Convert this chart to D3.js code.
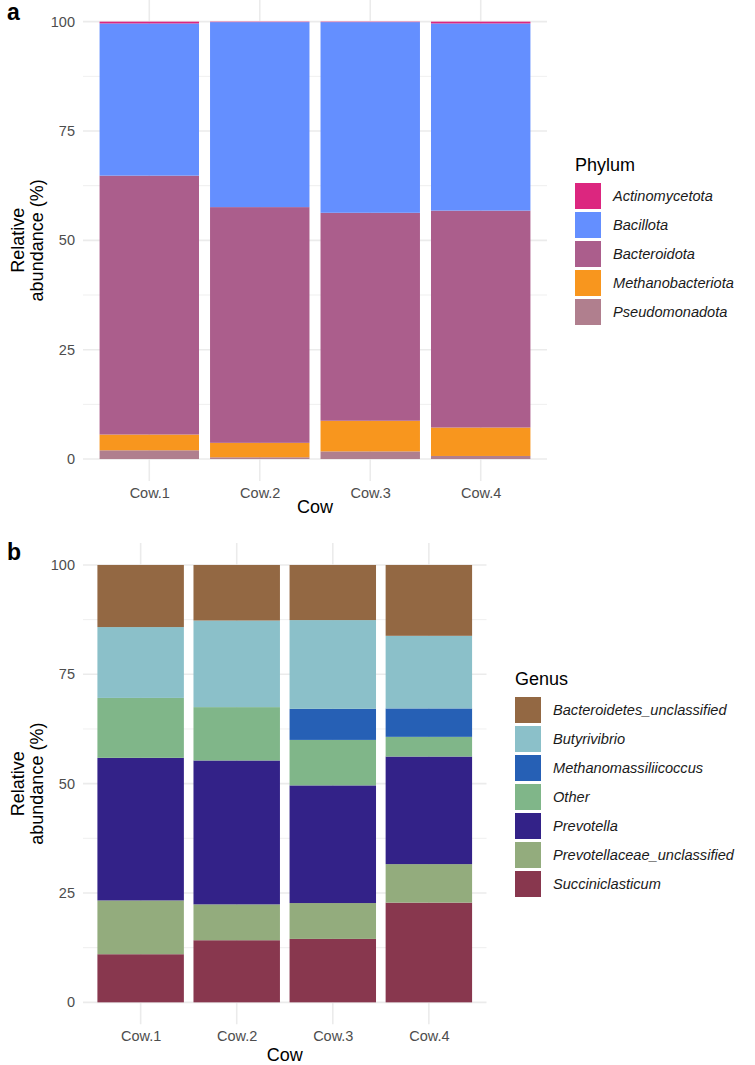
<!DOCTYPE html>
<html>
  <head>
    <meta charset="utf-8">
    <title>Relative abundance</title>
    <script src="https://cdnjs.cloudflare.com/ajax/libs/d3/7.8.5/d3.min.js"></script>
    <style>
      body { margin: 0; background: #fff; }
      text { font-family: "Liberation Sans", Arial, sans-serif; }
    </style>
  </head>
  <body>
    <div id="chart"></div>
    <script>
      // Data (percent per segment)
      var cows = ["Cow.1", "Cow.2", "Cow.3", "Cow.4"];
      var yTicks = [0, 25, 50, 75, 100];

      // Panel a: phylum
      var phyla = ["Actinomycetota", "Bacillota", "Bacteroidota", "Methanobacteriota", "Pseudomonadota"];
      var actinomycetota = [0.4, 0.1, 0.1, 0.4];
      var bacillota = [34.8, 42.3, 43.6, 42.8];
      var bacteroidota = [59.2, 53.9, 47.55, 49.6];
      var methanobacteriota = [3.6, 3.3, 7.0, 6.5];
      var pseudomonadota = [2.0, 0.4, 1.75, 0.7];
      var phylumColors = ["#dc267f", "#648fff", "#ab5e8c", "#f8961e", "#b07f8e"];

      // Panel b: genus
      var genera = ["Bacteroidetes_unclassified", "Butyrivibrio", "Methanomassiliicoccus", "Other",
                    "Prevotella", "Prevotellaceae_unclassified", "Succiniclasticum"];
      var bacteroidetesUnc = [14.2, 12.7, 12.6, 16.2];
      var butyrivibrio = [16.2, 19.8, 20.3, 16.6];
      var methanomassiliicoccus = [0, 0, 7.1, 6.5];
      var other = [13.7, 12.2, 10.4, 4.5];
      var prevotella = [32.6, 32.9, 26.9, 24.6];
      var prevotellaceaeUnc = [12.3, 8.2, 8.2, 8.8];
      var succiniclasticum = [11.0, 14.2, 14.5, 22.8];
      var genusColors = ["#936843", "#8bc0c9", "#2660b5", "#80b689", "#332288", "#93ac7d", "#88374e"];

      var svg = d3.select("#chart").append("svg")
        .attr("width", 755)
        .attr("height", 1065);

      function drawPanel(opt) {
        var g = svg.append("g");
        var x = d3.scalePoint().domain(cows).range([opt.left, opt.right]).padding(0.6);
        var y = d3.scaleLinear().domain([-5, 105]).range([opt.bottom, opt.top]);
        var barW = x.step() * 0.9;

        // grid
        var minor = [12.5, 37.5, 62.5, 87.5];
        g.selectAll(".minor").data(minor).enter().append("line")
          .attr("x1", opt.left).attr("x2", opt.right)
          .attr("y1", function(d) { return y(d); }).attr("y2", function(d) { return y(d); })
          .attr("stroke", "#ebebeb").attr("stroke-width", 0.8);
        g.selectAll(".major").data(yTicks).enter().append("line")
          .attr("x1", opt.left).attr("x2", opt.right)
          .attr("y1", function(d) { return y(d); }).attr("y2", function(d) { return y(d); })
          .attr("stroke", "#ebebeb").attr("stroke-width", 1.6);
        g.selectAll(".vgrid").data(cows).enter().append("line")
          .attr("x1", function(d) { return x(d); }).attr("x2", function(d) { return x(d); })
          .attr("y1", opt.top).attr("y2", opt.bottom)
          .attr("stroke", "#ebebeb").attr("stroke-width", 1.6);

        // stacked bars, first series on top
        var rows = cows.map(function(c, i) {
          var r = {cow: c};
          opt.keys.forEach(function(k, j) { r[k] = opt.series[j][i]; });
          return r;
        });
        var stack = d3.stack().keys(opt.keys.slice().reverse());
        var layers = stack(rows);
        g.selectAll(".layer").data(layers).enter().append("g")
          .attr("fill", function(d) { return opt.colors[opt.keys.indexOf(d.key)]; })
          .selectAll("rect").data(function(d) { return d; }).enter().append("rect")
            .attr("x", function(d) { return x(d.data.cow) - barW / 2; })
            .attr("width", barW)
            .attr("y", function(d) { return y(d[1]); })
            .attr("height", function(d) { return Math.max(0, y(d[0]) - y(d[1])); });

        // axes
        var yAxis = g.append("g")
          .attr("transform", "translate(" + (opt.left - 3) + ",0)")
          .call(d3.axisLeft(y).tickValues(yTicks).tickSize(0).tickPadding(5));
        yAxis.select(".domain").remove();
        yAxis.selectAll("text").attr("font-size", 14.5).attr("fill", "#4d4d4d")
          .style("font-family", "'Liberation Sans', Arial, sans-serif");

        var xAxis = g.append("g")
          .attr("transform", "translate(0," + (opt.bottom + 3) + ")")
          .call(d3.axisBottom(x).tickSize(0).tickPadding(4));
        xAxis.select(".domain").remove();
        xAxis.selectAll("text").attr("font-size", 14.5).attr("fill", "#4d4d4d")
          .style("font-family", "'Liberation Sans', Arial, sans-serif");

        g.append("text")
          .attr("x", (opt.left + opt.right) / 2).attr("y", opt.titleY)
          .attr("text-anchor", "middle").attr("font-size", 18).text("Cow");

        var ty = g.append("text")
          .attr("transform", "translate(24," + y(50) + ") rotate(-90)")
          .attr("text-anchor", "middle").attr("font-size", 18);
        ty.append("tspan").attr("x", 0).attr("dy", 0).text("Relative");
        ty.append("tspan").attr("x", 0).attr("dy", 19).text("abundance (%)");

        g.append("text")
          .attr("x", 7).attr("y", opt.tagY)
          .attr("font-size", 23).attr("font-weight", "bold").text(opt.tag);

        // legend
        var lg = g.append("g");
        lg.append("text").attr("x", opt.legX).attr("y", opt.legY - 12)
          .attr("font-size", 18).text(opt.title);
        var item = lg.selectAll(".item").data(opt.keys).enter().append("g")
          .attr("transform", function(d, i) { return "translate(" + opt.legX + "," + (opt.legY + i * 29) + ")"; });
        item.append("rect").attr("width", 26).attr("height", 26)
          .attr("fill", function(d, i) { return opt.colors[i]; });
        item.append("text").attr("x", 38).attr("y", 18)
          .attr("font-size", 14.6).attr("font-style", "italic").attr("fill", "#1a1a1a")
          .text(function(d) { return d; });
      }

      drawPanel({
        left: 83, right: 547, top: -0.2, bottom: 480.9,
        keys: phyla,
        series: [actinomycetota, bacillota, bacteroidota, methanobacteriota, pseudomonadota],
        colors: phylumColors,
        title: "Phylum", legX: 575, legY: 183,
        tag: "a", tagY: 20, titleY: 513
      });

      drawPanel({
        left: 83, right: 486.5, top: 543.1, bottom: 1024.2,
        keys: genera,
        series: [bacteroidetesUnc, butyrivibrio, methanomassiliicoccus, other,
                 prevotella, prevotellaceaeUnc, succiniclasticum],
        colors: genusColors,
        title: "Genus", legX: 515, legY: 697,
        tag: "b", tagY: 560, titleY: 1061
      });
    </script>
  </body>
</html>
